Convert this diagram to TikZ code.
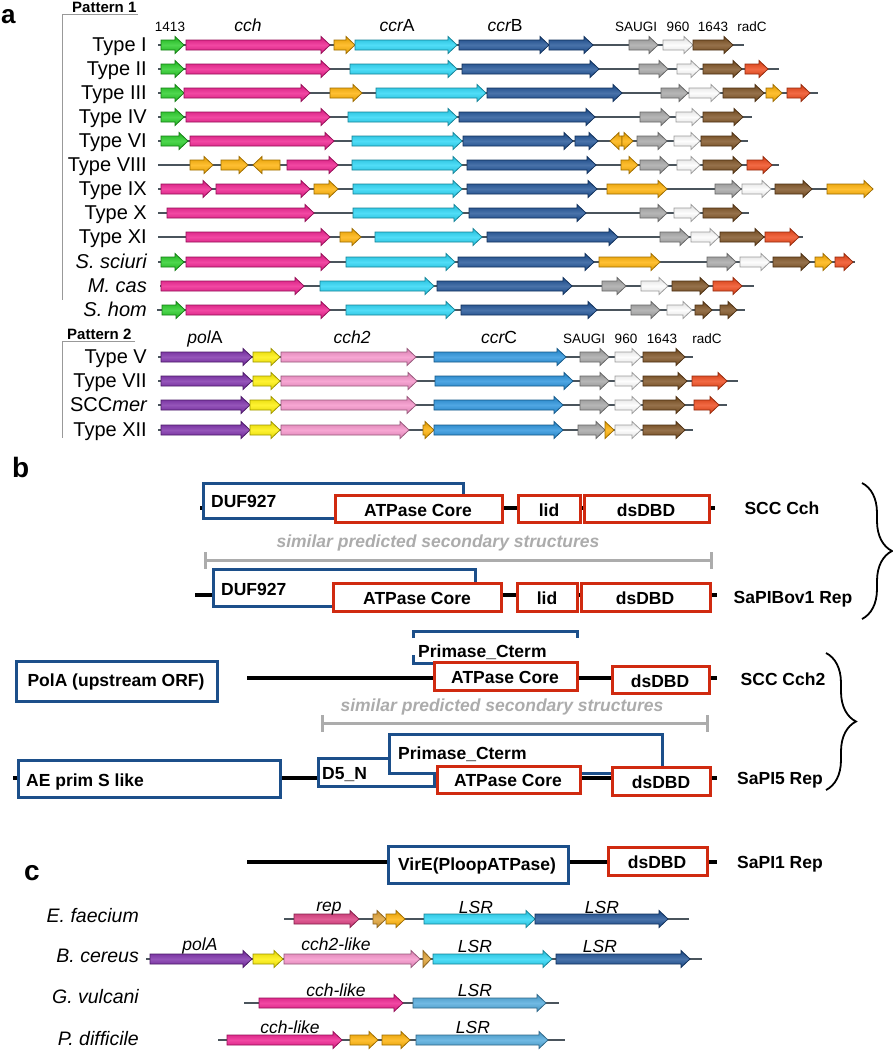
\documentclass[tikz,border=0pt]{standalone}
\usepackage{fontspec}
\setmainfont{Liberation Sans}
\usetikzlibrary{decorations.pathreplacing}
\definecolor{cGreen}{HTML}{22CC22}
\definecolor{cMag}{HTML}{EE1A8C}
\definecolor{cOr}{HTML}{FFB000}
\definecolor{cCyan}{HTML}{25D5F5}
\definecolor{cDB}{HTML}{1B4F94}
\definecolor{cGray}{HTML}{A4A4A4}
\definecolor{cWhite}{HTML}{FCFCFC}
\definecolor{cBrown}{HTML}{7B4E1E}
\definecolor{cRed}{HTML}{EE4415}
\definecolor{cPur}{HTML}{7A2AA8}
\definecolor{cYel}{HTML}{FFF000}
\definecolor{cPink}{HTML}{F590C8}
\definecolor{cCcrC}{HTML}{2490DC}
\definecolor{cRose}{HTML}{D8367A}
\definecolor{cGold}{HTML}{E0A030}
\definecolor{cSteel}{HTML}{4DA8DC}
\definecolor{bBlue}{HTML}{1C4F8A}
\definecolor{bRed}{HTML}{D02A10}
\definecolor{bbone}{HTML}{4A545C}
\definecolor{simgray}{HTML}{ACACAC}
\newcommand{\szType}{\fontsize{20}{22}\selectfont}
\newcommand{\szGene}{\fontsize{17.5}{19}\selectfont}
\newcommand{\szSmall}{\fontsize{13.5}{15}\selectfont}
\newcommand{\szPat}{\fontsize{15}{17}\selectfont\bfseries}
\newcommand{\szLet}{\fontsize{28}{30}\selectfont\bfseries}
\newcommand{\szLetA}{\fontsize{26}{28}\selectfont\bfseries}
\newcommand{\szB}{\fontsize{17.5}{19}\selectfont\bfseries}
\newcommand{\szSp}{\fontsize{19.5}{21}\selectfont\itshape}
\newcommand{\gene}[4]{%
  \pgfmathsetmacro{\gd}{#2-#1}%
  \pgfmathsetmacro{\hx}{#2-sign(\gd)*min(9,abs(\gd))}%
  \path[line width=0.8,draw=#4!62!black,top color=#4!88!black,bottom color=#4!88!black,middle color=#4!80!white]
   (#1,#3-5)--(\hx,#3-5)--(\hx,#3-8.5)--(#2,#3)--(\hx,#3+8.5)--(\hx,#3+5)--(#1,#3+5)--cycle;}
\newcommand{\grow}[4]{%
  \draw[bbline] (#2,#1)--(#3,#1);
  \foreach \ga/\gb/\gc in {#4} {\gene{\ga}{\gb}{#1}{\gc}}}
\begin{document}
\begin{tikzpicture}[x=1pt,y=-1pt,
  bbline/.style={line width=2.2,bbone},
  lab/.style={inner sep=0,font=\szType},
  glab/.style={inner sep=0,font=\szGene\itshape},
  slab/.style={inner sep=0,font=\szSmall},
  blab/.style={inner sep=0,font=\szB},
  splab/.style={inner sep=0,font=\szSp},
  bracket/.style={line width=1,gray!80},
  bbox/.style={line width=3,draw=bBlue,fill=white},
  rbox/.style={line width=3,draw=bRed,fill=white},
  bline/.style={line width=3.5,black},
  simbar/.style={line width=3,simgray},
  brc/.style={line width=1.8,black,decorate,decoration={brace,amplitude=30}}]
\useasboundingbox (0,0) rectangle (893,1050);
\fill[white] (0,0) rectangle (893,1050);
% ---------------- panel a
\node[inner sep=0,anchor=base west,font=\szLetA] (la) at (1,23) {a};
\node[inner sep=0,anchor=base west,font=\szPat] (p1) at (72,12) {Pattern 1};
\draw[bracket] (138,14)--(62,14)--(62,300);
\node[slab,anchor=base] (h1) at (170,31) {1413};
\node[glab,anchor=base] (h2) at (248,31) {cch};
\node[glab,anchor=base] (h3) at (397,31) {ccr\upshape A};
\node[glab,anchor=base] (h4) at (505,31) {ccr\upshape B};
\node[slab,anchor=base] (h5) at (636,31) {SAUGI};
\node[slab,anchor=base] (h6) at (678,31) {960};
\node[slab,anchor=base] (h7) at (713,31) {1643};
\node[slab,anchor=base] (h8) at (752,31) {radC};
\node[lab,anchor=base east] (t1) at (147,51.5) {Type I};
\node[lab,anchor=base east] (t2) at (147,75.5) {Type II};
\node[lab,anchor=base east] (t3) at (147,99.5) {Type III};
\node[lab,anchor=base east] (t4) at (147,123.5) {Type IV};
\node[lab,anchor=base east] (t6) at (147,147.5) {Type VI};
\node[lab,anchor=base east] (t8) at (147,171.5) {Type VIII};
\node[lab,anchor=base east] (t9) at (147,195.5) {Type IX};
\node[lab,anchor=base east] (t10) at (147,219.5) {Type X};
\node[lab,anchor=base east] (t11) at (147,243.5) {Type XI};
\node[lab,anchor=base east] (tss) at (147,268.5) {\itshape S. sciuri};
\node[lab,anchor=base east] (tmc) at (147,292.5) {\itshape M. cas};
\node[lab,anchor=base east] (tsh) at (147,316.5) {\itshape S. hom};
\grow{45}{158}{744}{161/184/cGreen,186/330/cMag,334/355/cOr,355/457/cCyan,459/549/cDB,549/593/cDB,629/658/cGray,663/693/cWhite,693/733/cBrown}
\grow{69}{158}{779}{161/184/cGreen,186/330/cMag,350/457/cCyan,462/599/cDB,639/668/cGray,677/700/cWhite,703/742/cBrown,745/768/cRed}
\grow{93}{158}{818}{161/184/cGreen,184/310/cMag,330/362/cOr,376/486/cCyan,487/622/cDB,661/688/cGray,689/720/cWhite,723/764/cBrown,766/782/cOr,787/810/cRed}
\grow{117}{158}{752}{161/184/cGreen,186/330/cMag,348/457/cCyan,459/595/cDB,640/670/cGray,676/701/cWhite,703/743/cBrown}
\grow{141}{158}{748}{161/188/cGreen,190/334/cMag,352/462/cCyan,463/573/cDB,575/598/cDB,622/610/cOr,622/633/cOr,637/667/cGray,674/700/cWhite,701/741/cBrown}
\grow{165}{158}{779}{190/213/cOr,221/248/cOr,280/253/cOr,287/338/cMag,352/462/cCyan,467/596/cDB,621/638/cOr,640/669/cGray,677/700/cWhite,703/742/cBrown,747/772/cRed}
\grow{189}{158}{873}{161/212/cMag,216/310/cMag,314/338/cOr,353/462/cCyan,467/597/cDB,607/667/cOr,715/741/cGray,742/771/cWhite,775/812/cBrown,827/873/cOr}
\grow{213}{158}{749}{167/314/cMag,353/463/cCyan,469/586/cDB,640/667/cGray,674/700/cWhite,703/742/cBrown}
\grow{237}{158}{803}{186/330/cMag,340/361/cOr,375/482/cCyan,487/618/cDB,660/689/cGray,691/719/cWhite,720/764/cBrown,765/799/cRed}
\grow{262}{158}{855}{161/184/cGreen,186/330/cMag,346/455/cCyan,458/594/cDB,599/660/cOr,707/736/cGray,740/770/cWhite,773/810/cBrown,815/832/cOr,835/853/cRed}
\grow{286}{160}{754}{161/304/cMag,320/434/cCyan,437/572/cDB,602/626/cGray,641/668/cWhite,672/709/cBrown,713/742/cRed}
\grow{310}{157}{745}{162/185/cGreen,186/330/cMag,346/455/cCyan,461/597/cDB,631/660/cGray,667/692/cWhite,695/712/cBrown,720/737/cBrown}
% pattern 2
\node[inner sep=0,anchor=base west,font=\szPat] (p2) at (67,339) {Pattern 2};
\draw[bracket] (135,341)--(62,341)--(62,438);
\node[glab,anchor=base] (k1) at (205,343) {pol\upshape A};
\node[glab,anchor=base] (k2) at (352,343) {cch2};
\node[glab,anchor=base] (k3) at (499,343) {ccr\upshape C};
\node[slab,anchor=base] (k4) at (584,343) {SAUGI};
\node[slab,anchor=base] (k5) at (626,343) {960};
\node[slab,anchor=base] (k6) at (662,343) {1643};
\node[slab,anchor=base] (k7) at (707,343) {radC};
\node[lab,anchor=base east] (t5) at (147,363.5) {Type V};
\node[lab,anchor=base east] (t7) at (147,387.5) {Type VII};
\node[lab,anchor=base east] (tm) at (147,411.5) {SCC\itshape mer};
\node[lab,anchor=base east] (t12) at (147,436.5) {Type XII};
\grow{357}{158}{693}{161/252/cPur,253/280/cYel,281/416/cPink,434/566/cCcrC,580/609/cGray,615/641/cWhite,643/685/cBrown}
\grow{381}{158}{738}{161/252/cPur,253/280/cYel,281/417/cPink,435/573/cCcrC,580/609/cGray,615/641/cWhite,643/687/cBrown,692/727/cRed}
\grow{405}{158}{727}{161/250/cPur,250/280/cYel,281/416/cPink,434/563/cCcrC,580/609/cGray,615/641/cWhite,643/685/cBrown,694/719/cRed}
\grow{430}{158}{693}{161/250/cPur,250/280/cYel,281/409/cPink,423/434/cOr,434/563/cCcrC,578/605/cGray,605/614/cOr,615/641/cWhite,643/685/cBrown}
% ---------------- panel b
\node[inner sep=0,anchor=base west,font=\szLet] (lb) at (12,477) {b};
% row 1
\draw[bline] (200,508)--(715,508);
\draw[bbox] (203,483) rectangle (463,518);
\draw[rbox] (335,495) rectangle (502,522);
\draw[rbox] (518,495) rectangle (580,522);
\draw[rbox] (584,495) rectangle (709,522);
\node[blab,anchor=base west] (d1) at (211,507) {DUF927};
\node[blab,anchor=base] (a1) at (418,516) {ATPase Core};
\node[blab,anchor=base] (l1) at (549,516) {lid};
\node[blab,anchor=base] (s1) at (646,516) {dsDBD};
\node[blab,anchor=base] (n1) at (782,514) {SCC Cch};
\node[blab,anchor=base,simgray,font=\szB\itshape] (g1) at (438,547) {similar predicted secondary structures};
\draw[simbar] (205,560)--(711,560);
\draw[simbar] (205,552)--(205,569);
\draw[simbar] (711,552)--(711,569);
% row 2
\draw[bline] (195,595)--(717,595);
\draw[bbox] (213,569) rectangle (475,606);
\draw[rbox] (333,583) rectangle (501,611);
\draw[rbox] (517,583) rectangle (577,611);
\draw[rbox] (581,583) rectangle (710,611);
\node[blab,anchor=base west] (d2) at (221,595) {DUF927};
\node[blab,anchor=base] (a2) at (417,604) {ATPase Core};
\node[blab,anchor=base] (l2) at (547,604) {lid};
\node[blab,anchor=base] (s2) at (645,604) {dsDBD};
\node[blab,anchor=base] (n2) at (793,603) {SaPIBov1 Rep};
\draw[brc] (862,483)--(862,619);
% row 3
\draw[bbox] (16,661) rectangle (217,701);
\node[blab,anchor=base] (pa) at (116,686) {PolA (upstream ORF)};
\draw[bline] (247,678)--(717,678);
\draw[line width=3,bBlue] (413,638)--(413,631)--(577,631)--(577,638);
\draw[line width=3,bBlue] (413,655)--(413,663)--(577,663);
\node[blab,anchor=base west] (pc1) at (418,657) {Primase\_Cterm};
\draw[rbox] (434,662) rectangle (577,690);
\draw[rbox] (612,666) rectangle (709,693);
\node[blab,anchor=base] (a3) at (505,683) {ATPase Core};
\node[blab,anchor=base] (s3) at (660,687) {dsDBD};
\node[blab,anchor=base] (n3) at (783,685) {SCC Cch2};
\node[blab,anchor=base,simgray,font=\szB\itshape] (g2) at (502,711) {similar predicted secondary structures};
\draw[simbar] (322,723)--(707,723);
\draw[simbar] (322,715)--(322,732);
\draw[simbar] (707,715)--(707,732);
% row 4
\draw[bline] (13,778)--(717,778);
\draw[bbox] (18,760) rectangle (280,797);
\node[blab,anchor=base west] (ae) at (26,786) {AE prim S like};
\draw[bbox] (318,758) rectangle (434,786);
\draw[bbox] (389,734) rectangle (662,773);
\draw[rbox] (437,766) rectangle (580,793);
\draw[rbox] (612,767) rectangle (710,795);
\node[blab,anchor=base west] (d5) at (322,779) {D5\_N};
\node[blab,anchor=base west] (pc2) at (398,759) {Primase\_Cterm};
\node[blab,anchor=base] (a4) at (508,786) {ATPase Core};
\node[blab,anchor=base] (s4) at (661,788) {dsDBD};
\node[blab,anchor=base] (n4) at (780,784) {SaPI5 Rep};
\draw[brc] (826,653)--(826,790);
% row 5
\draw[bline] (247,862)--(717,862);
\draw[bbox] (388,846) rectangle (568,883);
\draw[rbox] (608,847) rectangle (707,875);
\node[blab,anchor=base] (ve) at (477,870) {VirE(PloopATPase)};
\node[blab,anchor=base] (s5) at (657,868) {dsDBD};
\node[blab,anchor=base west] (n5) at (737,868) {SaPI1 Rep};
% ---------------- panel c
\node[inner sep=0,anchor=base west,font=\szLet] (lc) at (24,880) {c};
\node[splab,anchor=base east] (c1) at (139,922) {E. faecium};
\node[splab,anchor=base east] (c2) at (139,962) {B. cereus};
\node[splab,anchor=base east] (c3) at (139,1003) {G. vulcani};
\node[splab,anchor=base east] (c4) at (139,1045) {P. difficile};
\grow{919}{284}{689}{294/359/cRose,373/386/cGold,386/405/cOr,424/535/cCyan,535/668/cDB}
\grow{959}{146}{702}{150/252/cPur,253/283/cYel,284/420/cPink,423/431/cGold,433/552/cCyan,556/690/cDB}
\grow{1003}{244}{559}{259/403/cMag,413/546/cSteel}
\grow{1040}{218}{565}{227/342/cMag,350/378/cOr,382/410/cOr,416/548/cSteel}
\node[glab,anchor=base] (e1) at (329,911) {rep};
\node[glab,anchor=base] (e2) at (476,913) {LSR};
\node[glab,anchor=base] (e3) at (602,913) {LSR};
\node[glab,anchor=base] (f1) at (200,950) {polA};
\node[glab,anchor=base] (f2) at (336,950) {cch2-like};
\node[glab,anchor=base] (f3) at (475,952) {LSR};
\node[glab,anchor=base] (f4) at (600,952) {LSR};
\node[glab,anchor=base] (v1) at (336,996) {cch-like};
\node[glab,anchor=base] (v2) at (475,996) {LSR};
\node[glab,anchor=base] (w1) at (290,1033) {cch-like};
\node[glab,anchor=base] (w2) at (473,1033) {LSR};
\end{tikzpicture}
\end{document}
